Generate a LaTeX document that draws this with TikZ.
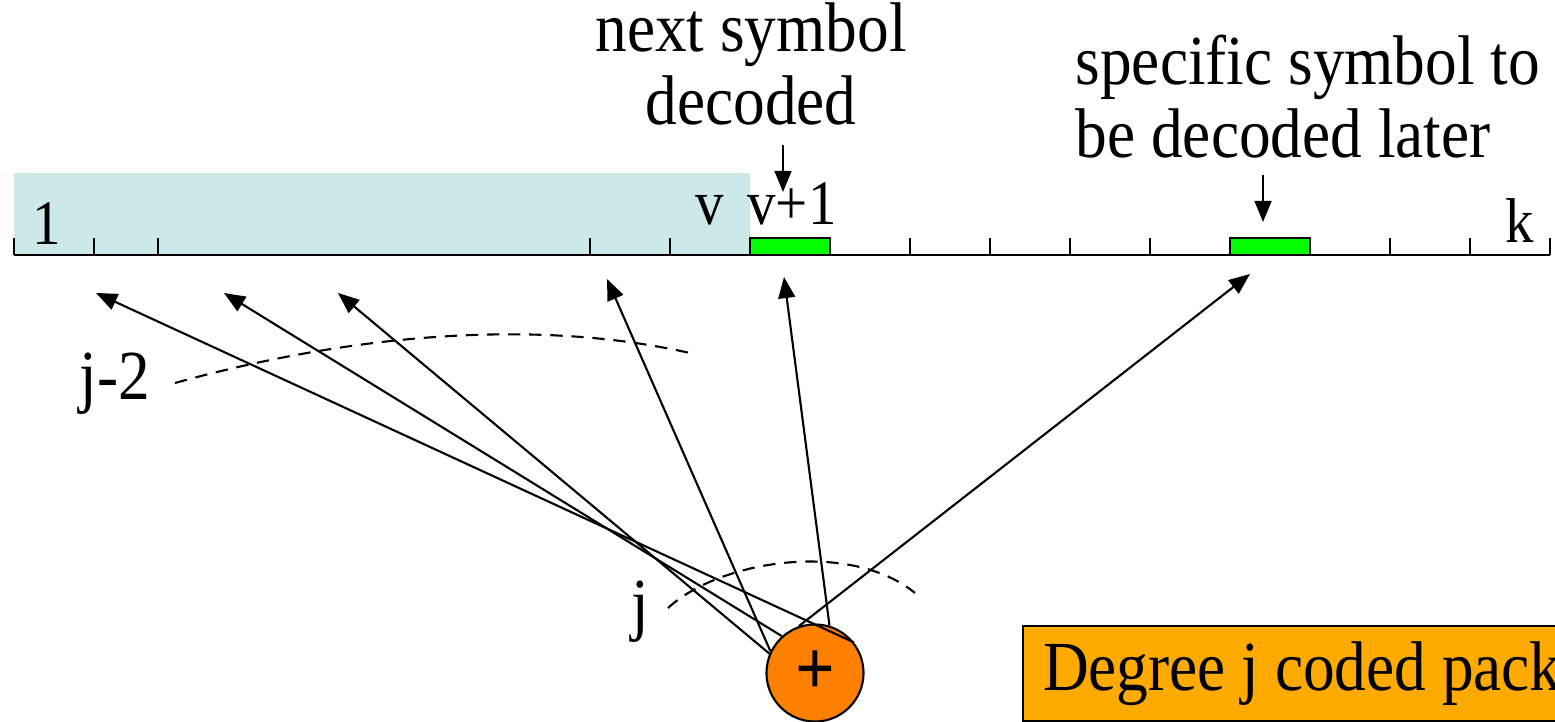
\documentclass[tikz,border=0pt]{standalone}
\usepackage{fontspec}
\setmainfont{Liberation Serif}[FakeStretch=0.9]
\usetikzlibrary{arrows.meta}
\definecolor{mygreen}{RGB}{0,255,0}
\definecolor{myorange}{RGB}{255,128,0}
\definecolor{mygold}{RGB}{255,170,0}
\definecolor{myshade}{RGB}{205,232,232}

\begin{document}
\begin{tikzpicture}[x=0.01cm, y=-0.01cm,
    lbl/.style={font=\fontsize{20}{21}\selectfont, inner sep=0pt},
    axlbl/.style={font=\fontsize{18}{19}\selectfont, inner sep=0pt, anchor=base},
    slot/.style={draw, fill=mygreen, line width=0.6pt, minimum width=0.8cm,
        minimum height=0.17cm, inner sep=0pt},
    flow/.style={-{Triangle[length=6pt, width=4.8pt]}, line width=0.6pt},
    layer/.style={dash pattern=on 3.5pt off 2.5pt, line width=0.6pt}
]
\useasboundingbox (0,0) rectangle (1555,722);
\fill[myshade] (14,173) rectangle (750,255);
\draw[line width=0.8pt] (14,255) -- (1550,255);
\foreach \x in {14,94,158,590,670,910,990,1070,1150,1390,1470,1550}
    \draw[line width=0.6pt] (\x,255) -- (\x,238);
\node[slot] (next) at (790,246.5) {};
\node[slot] (later) at (1270,246.5) {};

\node[axlbl] (one) at (47,245) {1};
\node[axlbl] (v) at (710,225) {v};
\node[axlbl] (vp) at (792,225) {v+1};
\node[axlbl] (k) at (1520,243) {k};

\node[lbl, align=center, anchor=base] (nextlbl) at (751,125) {next symbol\\decoded};
\node[lbl, align=left, anchor=base west] (laterlbl) at (1075,158)
    {specific symbol to\\be decoded later};
\coordinate (na) at (783,145); \coordinate (nb) at (783,192);
\coordinate (la) at (1263,175); \coordinate (lb) at (1263,222);
\draw[flow] (na) -- (nb); \draw[flow] (la) -- (lb);

\node[lbl, anchor=base] (jm2) at (115,400) {j-2};
\node[lbl, anchor=base] (jl) at (640,627) {j};
\coordinate (jm2a) at (175,383); \coordinate (jm2b) at (690,353);
\coordinate (ja) at (668,608); \coordinate (jb) at (915,593);
\draw[layer] (jm2a) .. controls (330,340) and (520,315) .. (jm2b);
\draw[layer] (ja) .. controls (720,560) and (850,540) .. (jb);

\node[circle, draw, fill=myorange, minimum size=0.97cm, inner sep=0pt,
    line width=0.6pt, font=\fontsize{22}{22}\bfseries] (xor) at (815,673) {+};
\coordinate (t1) at (96,293); \coordinate (t2) at (224,293);
\coordinate (t3) at (338,293); \coordinate (t4) at (607,279);
\coordinate (t5) at (784,277); \coordinate (t6) at (1250,274);
\draw[flow] (xor.38) -- (t1); \draw[flow] (xor.132) -- (t2);
\draw[flow] (xor.157) -- (t3); \draw[flow] (xor.154) -- (t4);
\draw[flow] (xor.73) -- (t5); \draw[flow] (xor.109) -- (t6);

\node[lbl, draw, fill=mygold, line width=0.6pt, anchor=north west,
    minimum height=0.95cm, inner xsep=0.2cm] (pkt) at (1022,625)
    {Degree j coded packet};
\end{tikzpicture}
\end{document}
